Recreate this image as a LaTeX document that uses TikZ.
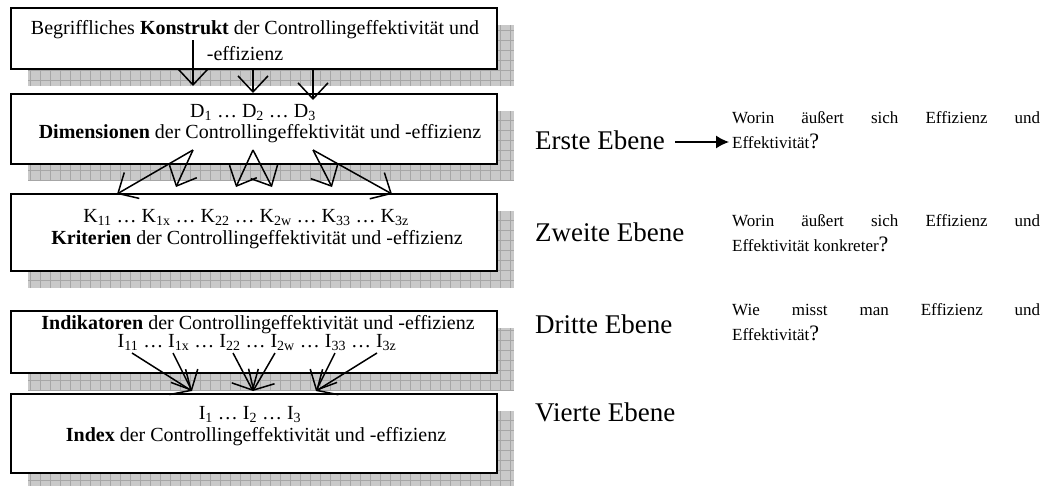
\documentclass[tikz,border=0pt]{standalone}
\usepackage{fontspec}
\setmainfont{Liberation Serif}
\usetikzlibrary{arrows.meta}
\tikzset{
  boxframe/.style={draw=black, line width=2.4pt, fill=white, inner sep=0pt, outer sep=0pt},
  shadowfill/.style={fill=gray!42},
  shadowgrid/.style={draw=gray!70, line width=0.5pt},
  boxtext/.style={inner sep=0pt, anchor=base, font=\fontsize{20}{24}\selectfont},
  level/.style={inner sep=0pt, anchor=base west, font=\fontsize{27}{30}\selectfont},
  qtext/.style={inner sep=0pt, anchor=base west, font=\fontsize{17}{25}\selectfont},
  arr/.style={line width=1.5pt, -{Straight Barb[length=16pt,width=30pt,line width=1.5pt]}},
  larr/.style={line width=1.3pt, -{Latex[length=13pt,width=13pt]}},
}
\newcommand\mybox[5]{%
  \fill[shadowfill] ({#2+17},{#3+17}) rectangle ({#4+17},{#5+17});
  \draw[shadowgrid, step=10pt] ({#2+17},{#3+17}) grid ({#4+17},{#5+17});
  \node[boxframe, anchor=north west, minimum width={(#4-#2)*1pt}, minimum height={(#5-#3)*1pt}] (#1) at (#2,#3) {};
}
\newcommand\qbox[1]{\parbox[t]{308pt}{\fontsize{17}{25}\selectfont\hbadness=10000 #1}}
\newcommand\bq{{\fontsize{22}{22}\selectfont ?}}
\begin{document}
\begin{tikzpicture}[x=1pt,y=-1pt]
\useasboundingbox[fill=white] (0,0) rectangle (1044,485);
\begin{scope}
\clip (0,0) rectangle (1044,485);
\mybox{b1}{11}{8}{497}{69}
\mybox{b2}{11}{94}{497}{164}
\mybox{b3}{11}{194}{497}{271}
\mybox{b4}{11}{311}{497}{373}
\mybox{b5}{11}{394}{497}{473}
\end{scope}

% box texts
\node[boxtext] (t1a) at (255,34) {Begriffliches \textbf{Konstrukt} der Controllingeffektivität und};
\node[boxtext] (t1b) at (245,60) {-effizienz};
\node[boxtext] (t2a) at (253,117) {D\textsubscript{1} … D\textsubscript{2} … D\textsubscript{3}};
\node[boxtext] (t2b) at (260,138) {\textbf{Dimensionen} der Controllingeffektivität und -effizienz};
\node[boxtext] (t3a) at (246,222) {K\textsubscript{11} … K\textsubscript{1x} … K\textsubscript{22} … K\textsubscript{2w} … K\textsubscript{33} … K\textsubscript{3z}};
\node[boxtext] (t3b) at (257,244) {\textbf{Kriterien} der Controllingeffektivität und -effizienz};
\node[boxtext] (t4a) at (258,329) {\textbf{Indikatoren} der Controllingeffektivität und -effizienz};
\node[boxtext] (t4b) at (257,347) {I\textsubscript{11} … I\textsubscript{1x} … I\textsubscript{22} … I\textsubscript{2w} … I\textsubscript{33} … I\textsubscript{3z}};
\node[boxtext] (t5a) at (250,419) {I\textsubscript{1} … I\textsubscript{2} … I\textsubscript{3}};
\node[boxtext] (t5b) at (256,441) {\textbf{Index} der Controllingeffektivität und -effizienz};

% level labels
\node[level] (l1) at (535,149) {Erste Ebene};
\node[level] (l2) at (535,241) {Zweite Ebene};
\node[level] (l3) at (535,333) {Dritte Ebene};
\node[level] (l4) at (535,421) {Vierte Ebene};

% questions
\node[qtext] (q1) at (732,123) {\qbox{Worin äußert sich Effizienz und\linebreak Effektivität\bq}};
\node[qtext] (q2) at (732,226) {\qbox{Worin äußert sich Effizienz und\linebreak Effektivität konkreter\bq}};
\node[qtext] (q3) at (732,315) {\qbox{Wie misst man Effizienz und\linebreak Effektivität\bq}};

\coordinate (l1e) at (675,142);
\coordinate (q1w) at (729,142);
\draw[larr] (l1e) -- (q1w);

% arrows box1 -> box2
\coordinate (a1s) at (193,40);  \coordinate (a1e) at (193,86);
\coordinate (a2s) at (253,69);  \coordinate (a2e) at (253,93);
\coordinate (a3s) at (313,69);  \coordinate (a3e) at (313,100);
\draw[arr] (a1s) -- (a1e);
\draw[arr] (a2s) -- (a2e);
\draw[arr] (a3s) -- (a3e);

% arrows box2 -> box3
\coordinate (d1) at (193,150);
\coordinate (d2) at (253,150);
\coordinate (d3) at (313,150);
\coordinate (k1) at (117,194);
\coordinate (k2) at (176,187);
\coordinate (k3) at (236,187);
\coordinate (k4) at (272,187);
\coordinate (k5) at (332,187);
\coordinate (k6) at (392,194);
\draw[arr] (d1) -- (k1);
\draw[arr] (d1) -- (k2);
\draw[arr] (d2) -- (k3);
\draw[arr] (d2) -- (k4);
\draw[arr] (d3) -- (k5);
\draw[arr] (d3) -- (k6);

% arrows box4 -> box5
\coordinate (i1) at (132,353);
\coordinate (i2) at (173,353);
\coordinate (i3) at (233,353);
\coordinate (i4) at (275,353);
\coordinate (i5) at (335,353);
\coordinate (i6) at (377,353);
\coordinate (x1) at (192,391);
\coordinate (x2) at (253,391);
\coordinate (x3) at (316,391);
\draw[arr] (i1) -- (x1);
\draw[arr] (i2) -- (x1);
\draw[arr] (i3) -- (x2);
\draw[arr] (i4) -- (x2);
\draw[arr] (i5) -- (x3);
\draw[arr] (i6) -- (x3);
\end{tikzpicture}
\end{document}
